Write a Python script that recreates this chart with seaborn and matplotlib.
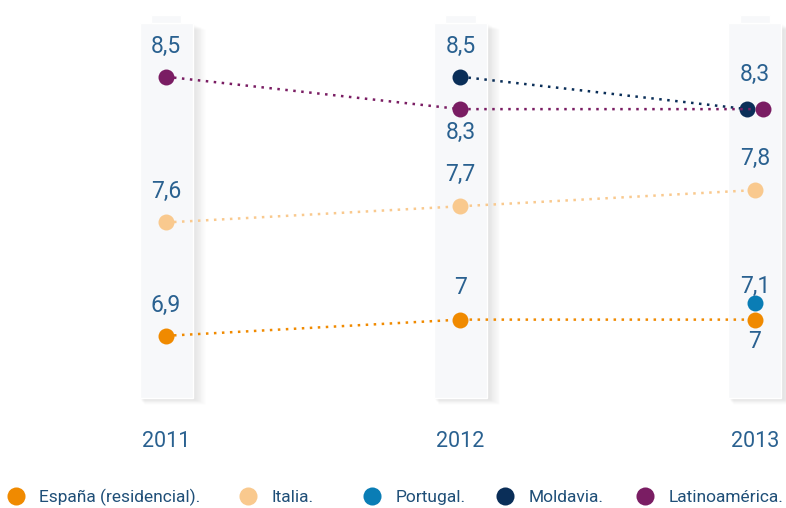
import pandas as pd
import numpy as np
import matplotlib
matplotlib.use("Agg")
import matplotlib.pyplot as plt
from matplotlib.lines import Line2D
import seaborn as sns

years = ["2011", "2012", "2013"]
series = ["España (residencial).", "Italia.", "Portugal.", "Moldavia.", "Latinoamérica."]
espana = [6.9, 7.0, 7.0]
italia = [7.6, 7.7, 7.8]
portugal = [None, None, 7.1]
moldavia = [None, 8.5, 8.3]
latam = [8.5, 8.3, 8.3]
colors = ["#f08a00", "#f9c98e", "#0a7db5", "#0a2e58", "#7a1d63"]

# label offsets (points) for each value label: above (+) / below (-)
label_off = {
    "España (residencial).": [22, 23, -16],
    "Italia.": [22, 23, 23],
    "Portugal.": [None, None, 12],
    "Moldavia.": [None, 22, None],
    "Latinoamérica.": [22, -17, 25],
}
# small horizontal dodge so overlapping dots stay visible (2013)
dodge = {"Moldavia.": [0, 0, -0.026], "Latinoamérica.": [0, 0, 0.026]}

# legend item positions (pixels from left)
legend_px = [16, 248, 372, 505, 645]

values = [espana, italia, portugal, moldavia, latam]
rows = []
for name, vals in zip(series, values):
    for i, v in enumerate(vals):
        if v is not None:
            dx = dodge.get(name, [0, 0, 0])[i]
            rows.append({"serie": name, "x": i + dx, "year": i, "valor": v})
df = pd.DataFrame(rows)

sns.set_style("white")
plt.rcParams["font.family"] = ["Roboto", "DejaVu Sans"]

fig = plt.figure(figsize=(7.86, 5.08), dpi=100)
ax = fig.add_axes([0, 88 / 508, 1, 420 / 508])

bar_top, bar_bot = 8.83, 6.515
# column shadows
for k in range(1, 8):
    ax.bar(np.arange(3) + 0.004 * k, bar_top - bar_bot, bottom=bar_bot - 0.005 * k,
           width=0.18 + 0.004 * k, color="#000000", alpha=0.014, zorder=0)
ax.bar(np.arange(3), bar_top - bar_bot, bottom=bar_bot, width=0.18,
       color="#f7f8fa", zorder=1)
ax.bar(np.arange(3), 0.05, bottom=bar_top, width=0.102, color="#f7f8fa", zorder=1)

sns.lineplot(data=df, x="x", y="valor", hue="serie", hue_order=series,
             palette=colors, linestyle=(0, (1, 2.2)), linewidth=1.8,
             marker="o", markersize=11.5, markeredgewidth=0,
             legend=False, ax=ax, zorder=3)

for name, vals in zip(series, values):
    for i, v in enumerate(vals):
        off = label_off[name][i]
        if v is None or off is None:
            continue
        txt = f"{v:g}".replace(".", ",")
        ax.annotate(txt, (i, v), xytext=(0, off), textcoords="offset points",
                    ha="center", va="center", fontsize=16.5, color="#2a6190",
                    zorder=4)

ax.set_xlim(-0.5637, 2.1053)
ax.set_ylim(6.38, 8.974)
ax.set_xticks([0, 1, 2], years)
ax.set_yticks([])
ax.tick_params(axis="x", length=0, pad=8, labelsize=15.5, labelcolor="#2a6190")
ax.set_xlabel("")
ax.set_ylabel("")
for s in ax.spines.values():
    s.set_visible(False)

fs = 12.5
for name, c, px in zip(series, colors, legend_px):
    h = Line2D([], [], linestyle="none", marker="o", markersize=13,
               markeredgewidth=0, color=c)
    anchor = (px - 0.6 * fs * 100 / 72) / 786
    fig.legend([h], [name], loc="center left", bbox_to_anchor=(anchor, 11 / 508),
               frameon=False, handletextpad=0.75, handlelength=1.2,
               borderpad=0, borderaxespad=0, prop={"size": fs},
               labelcolor="#1f4f78")

fig.savefig("out.png", dpi=100)
